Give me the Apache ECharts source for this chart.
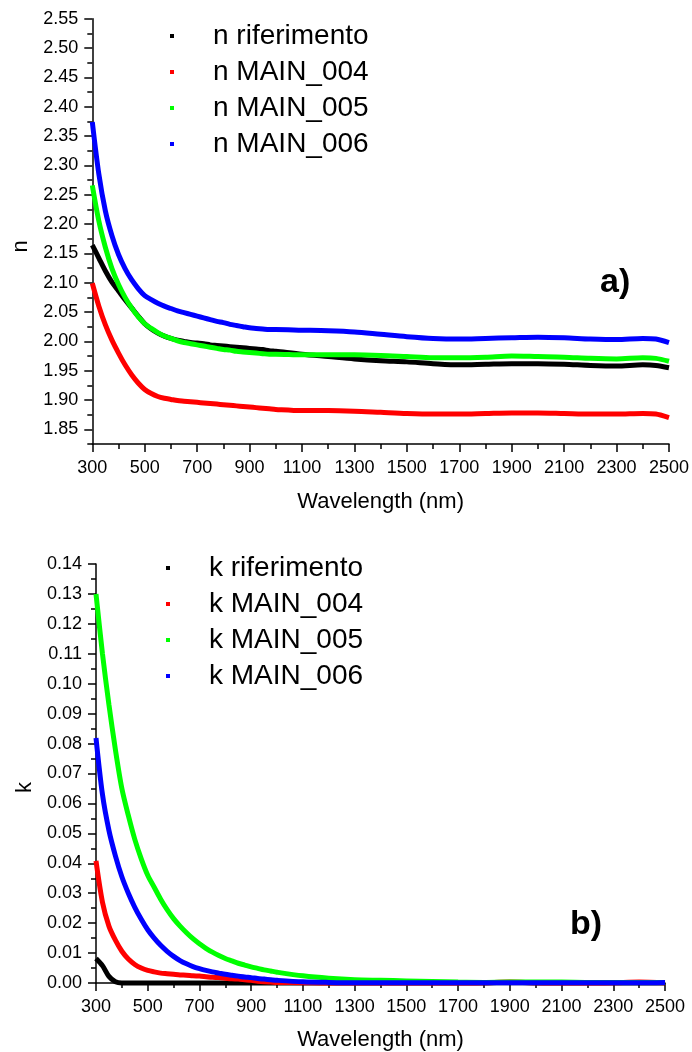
<!DOCTYPE html>
<html>
<head>
<meta charset="utf-8">
<script src="https://cdn.jsdelivr.net/npm/echarts@6/dist/echarts.min.js"></script>
<style>
  html, body { margin: 0; padding: 0; background: #fff; }
  #chart { width: 692px; height: 1052px; }
</style>
</head>
<body>
<div id="chart"></div>
<script>
const FONT = '"Liberation Sans", Arial, sans-serif';

// ---- panel a) refractive index n ----
const nWavelength = [300, 325, 350, 375, 400, 425, 450, 475, 500, 525, 550, 575, 600, 625, 650, 675, 700,
  725, 750, 775, 800, 825, 850, 875, 900, 925, 950, 975, 1000,
  1100, 1200, 1300, 1400, 1500, 1600, 1700, 1800, 1900, 2000, 2100, 2200, 2300, 2400, 2450, 2500];
const nRiferimento = [2.164, 2.142, 2.120, 2.101, 2.086, 2.071, 2.057, 2.043, 2.030, 2.021, 2.014, 2.009, 2.005, 2.002, 2.000, 1.998, 1.997,
  1.996, 1.994, 1.993, 1.992, 1.991, 1.990, 1.989, 1.988, 1.987, 1.986, 1.984, 1.983,
  1.978, 1.974, 1.970, 1.967, 1.965, 1.962, 1.960, 1.961, 1.962, 1.962, 1.961, 1.959, 1.958, 1.960, 1.959, 1.955];
const nMain004 = [2.099, 2.060, 2.028, 2.002, 1.980, 1.960, 1.943, 1.929, 1.918, 1.911, 1.906, 1.903, 1.901, 1.899, 1.898, 1.897, 1.896,
  1.895, 1.894, 1.893, 1.892, 1.891, 1.890, 1.889, 1.888, 1.887, 1.886, 1.885, 1.884,
  1.882, 1.882, 1.881, 1.879, 1.877, 1.876, 1.876, 1.877, 1.878, 1.878, 1.877, 1.876, 1.876, 1.877, 1.876, 1.870];
const nMain005 = [2.266, 2.205, 2.160, 2.124, 2.097, 2.075, 2.057, 2.042, 2.030, 2.022, 2.015, 2.009, 2.005, 2.001, 1.998, 1.996, 1.994,
  1.992, 1.990, 1.988, 1.986, 1.985, 1.983, 1.982, 1.981, 1.980, 1.979, 1.978, 1.978,
  1.977, 1.977, 1.977, 1.976, 1.974, 1.972, 1.972, 1.973, 1.975, 1.974, 1.973, 1.971, 1.970, 1.972, 1.971, 1.966];
const nMain006 = [2.374, 2.285, 2.222, 2.180, 2.148, 2.124, 2.105, 2.090, 2.078, 2.071, 2.065, 2.060, 2.056, 2.052, 2.049, 2.046, 2.043,
  2.040, 2.037, 2.034, 2.032, 2.029, 2.027, 2.025, 2.023, 2.022, 2.021, 2.020, 2.020,
  2.019, 2.018, 2.016, 2.012, 2.008, 2.005, 2.004, 2.005, 2.006, 2.007, 2.006, 2.004, 2.003, 2.005, 2.004, 1.998];

// ---- panel b) extinction coefficient k ----
const kWavelength = [300, 325, 350, 375, 400, 425, 450, 475, 500, 525, 550, 575, 600, 625, 650, 675, 700,
  725, 750, 775, 800, 825, 850, 875, 900, 925, 950, 975, 1000,
  1100, 1200, 1300, 1400, 1500, 1600, 1700, 1800, 1900, 2000, 2100, 2200, 2300, 2400, 2500];
const kRiferimento = [0.0082, 0.0058, 0.0022, 0.0004, 0, 0, 0, 0, 0, 0, 0, 0, 0, 0, 0, 0, 0,
  0, 0, 0, 0, 0, 0, 0, 0, 0, 0, 0, 0,
  0, 0, 0, 0, 0, 0, 0, 0, 0.0001, 0, 0, 0, 0, 0, 0];
const kMain004 = [0.0408, 0.027, 0.019, 0.0143, 0.0106, 0.0080, 0.0062, 0.0050, 0.0042, 0.0037, 0.0033, 0.0031, 0.0029, 0.0027, 0.0026, 0.0024, 0.0023,
  0.0021, 0.0019, 0.0018, 0.0016, 0.0014, 0.0013, 0.0011, 0.0009, 0.0006, 0.0004, 0.0003, 0.0002,
  0.0001, 0, 0, 0, 0, 0, 0, 0.0001, 0.0003, 0.0001, 0, 0, 0.0001, 0.0003, 0.0001];
const kMain005 = [0.130, 0.110, 0.093, 0.078, 0.065, 0.056, 0.048, 0.0415, 0.036, 0.032, 0.028, 0.0245, 0.0215, 0.019, 0.0168, 0.0148, 0.0131,
  0.0116, 0.0103, 0.0092, 0.0082, 0.0074, 0.0066, 0.0060, 0.0054, 0.0049, 0.0044, 0.0040, 0.0036,
  0.0024, 0.0016, 0.0011, 0.0009, 0.0007, 0.0005, 0.0003, 0.0002, 0.0003, 0.0003, 0.0003, 0.0002, 0.0002, 0.0002, 0.0002];
const kMain006 = [0.0819, 0.063, 0.051, 0.0425, 0.0355, 0.0300, 0.0253, 0.0213, 0.0178, 0.0150, 0.0126, 0.0106, 0.0089, 0.0075, 0.0064, 0.0055, 0.0048,
  0.0042, 0.0037, 0.0033, 0.0029, 0.0026, 0.0023, 0.0020, 0.0018, 0.0015, 0.0013, 0.0011, 0.0009,
  0.0004, 0.0002, 0.0001, 0.0001, 0.0001, 0.0001, 0.0001, 0.0001, 0.0001, 0.0001, 0.0001, 0.0001, 0.0001, 0.0001, 0.0002];

// tick labels
const wlTicks = [300, 500, 700, 900, 1100, 1300, 1500, 1700, 1900, 2100, 2300, 2500];
const wlMinor = [400, 600, 800, 1000, 1200, 1400, 1600, 1800, 2000, 2200, 2400];
const nTicks = [1.85, 1.90, 1.95, 2.00, 2.05, 2.10, 2.15, 2.20, 2.25, 2.30, 2.35, 2.40, 2.45, 2.50, 2.55];
const nMinor = [1.825, 1.875, 1.925, 1.975, 2.025, 2.075, 2.125, 2.175, 2.225, 2.275, 2.325, 2.375, 2.425, 2.475, 2.525];
const kTicks = [0, 0.01, 0.02, 0.03, 0.04, 0.05, 0.06, 0.07, 0.08, 0.09, 0.10, 0.11, 0.12, 0.13, 0.14];
const kMinor = [0.005, 0.015, 0.025, 0.035, 0.045, 0.055, 0.065, 0.075, 0.085, 0.095, 0.105, 0.115, 0.125, 0.135];

const nNames = ["n riferimento", "n MAIN_004", "n MAIN_005", "n MAIN_006"];
const kNames = ["k riferimento", "k MAIN_004", "k MAIN_005", "k MAIN_006"];
const colors = ["#000000", "#ff0000", "#00ff00", "#0000ff"];

const axisColor = "#000";

function mainX(grid, gap) {
  return {
    gridIndex: grid, type: "value", min: 300, max: 2500, position: "bottom",
    axisLine: { onZero: false, lineStyle: { color: axisColor, width: 1.5 } },
    axisTick: { customValues: wlTicks, length: 8, lineStyle: { color: axisColor, width: 1.5 } },
    axisLabel: { customValues: wlTicks, color: "#000", fontSize: 18, fontFamily: FONT, margin: 15,
      formatter: (v) => String(v) },
    splitLine: { show: false },
    name: "Wavelength (nm)", nameLocation: "middle", nameGap: gap,
    nameTextStyle: { color: "#000", fontSize: 22, fontFamily: FONT },
  };
}
function minorX(grid) {
  return {
    gridIndex: grid, type: "value", min: 300, max: 2500, position: "bottom",
    axisLine: { show: false, onZero: false },
    axisTick: { customValues: wlMinor, length: 5, lineStyle: { color: axisColor, width: 1.5 } },
    axisLabel: { show: false }, splitLine: { show: false },
  };
}
function mainY(grid, min, max, ticks, name, shift) {
  return {
    gridIndex: grid, type: "value", min, max, position: "left",
    axisLine: { onZero: false, lineStyle: { color: axisColor, width: 1.5 } },
    axisTick: { customValues: ticks, length: 8, lineStyle: { color: axisColor, width: 1.5 } },
    axisLabel: { customValues: ticks, color: "#000", fontSize: 18, fontFamily: FONT, margin: 14,
      formatter: (v) => v.toFixed(2) },
    splitLine: { show: false },
    name, nameLocation: "middle", nameGap: 60, nameRotate: 90,
    nameTextStyle: { color: "#000", fontSize: 22, fontFamily: FONT, padding: [0, shift, 0, 0] },
  };
}
function minorY(grid, min, max, ticks) {
  return {
    gridIndex: grid, type: "value", min, max, position: "left",
    axisLine: { show: false, onZero: false },
    axisTick: { customValues: ticks, length: 5, lineStyle: { color: axisColor, width: 1.5 } },
    axisLabel: { show: false }, splitLine: { show: false },
  };
}

function lineSeries(name, xs, ys, color, axis) {
  return {
    name, type: "line", xAxisIndex: axis, yAxisIndex: axis,
    data: xs.map((x, i) => [x, ys[i]]),
    showSymbol: false, smooth: 0.3, clip: false,
    lineStyle: { color, width: 5 },
    itemStyle: { color },
  };
}

function legendFor(names, left, top) {
  return {
    data: names, orient: "vertical", left, top, padding: 0,
    icon: "rect", itemWidth: 4, itemHeight: 4, itemGap: 6,
    selectedMode: false,
    textStyle: { color: "#000", fontSize: 28, fontFamily: FONT, lineHeight: 30, padding: [0, 0, 0, 34] },
  };
}

const nSeries = [nRiferimento, nMain004, nMain005, nMain006];
const kSeries = [kRiferimento, kMain004, kMain005, kMain006];

const option = {
  backgroundColor: "#fff",
  animation: false,
  title: [
    { text: "a)", left: 600, top: 266, padding: 0,
      textStyle: { fontSize: 34, fontWeight: "bold", fontFamily: FONT, color: "#000" } },
    { text: "b)", left: 570, top: 908, padding: 0,
      textStyle: { fontSize: 34, fontWeight: "bold", fontFamily: FONT, color: "#000" } },
  ],
  legend: [legendFor(nNames, 170, 21), legendFor(kNames, 166, 553)],
  grid: [
    { left: 92.3, top: 18.7, width: 577.4, height: 425.3 },
    { left: 96, top: 564, width: 569, height: 420 },
  ],
  xAxis: [mainX(0, 47), minorX(0), mainX(1, 46), minorX(1)],
  yAxis: [
    mainY(0, 1.825, 2.55, nTicks, "n", 30),
    minorY(0, 1.825, 2.55, nMinor),
    mainY(1, 0, 0.14, kTicks, "k", 28),
    minorY(1, 0, 0.14, kMinor),
  ],
  series: [
    ...nNames.map((name, i) => lineSeries(name, nWavelength, nSeries[i], colors[i], 0)),
    ...kNames.map((name, i) => lineSeries(name, kWavelength, kSeries[i], colors[i], 2)),
  ],
};

const chart = echarts.init(document.getElementById("chart"), null, { renderer: "canvas" });
chart.setOption(option);
</script>
</body>
</html>
